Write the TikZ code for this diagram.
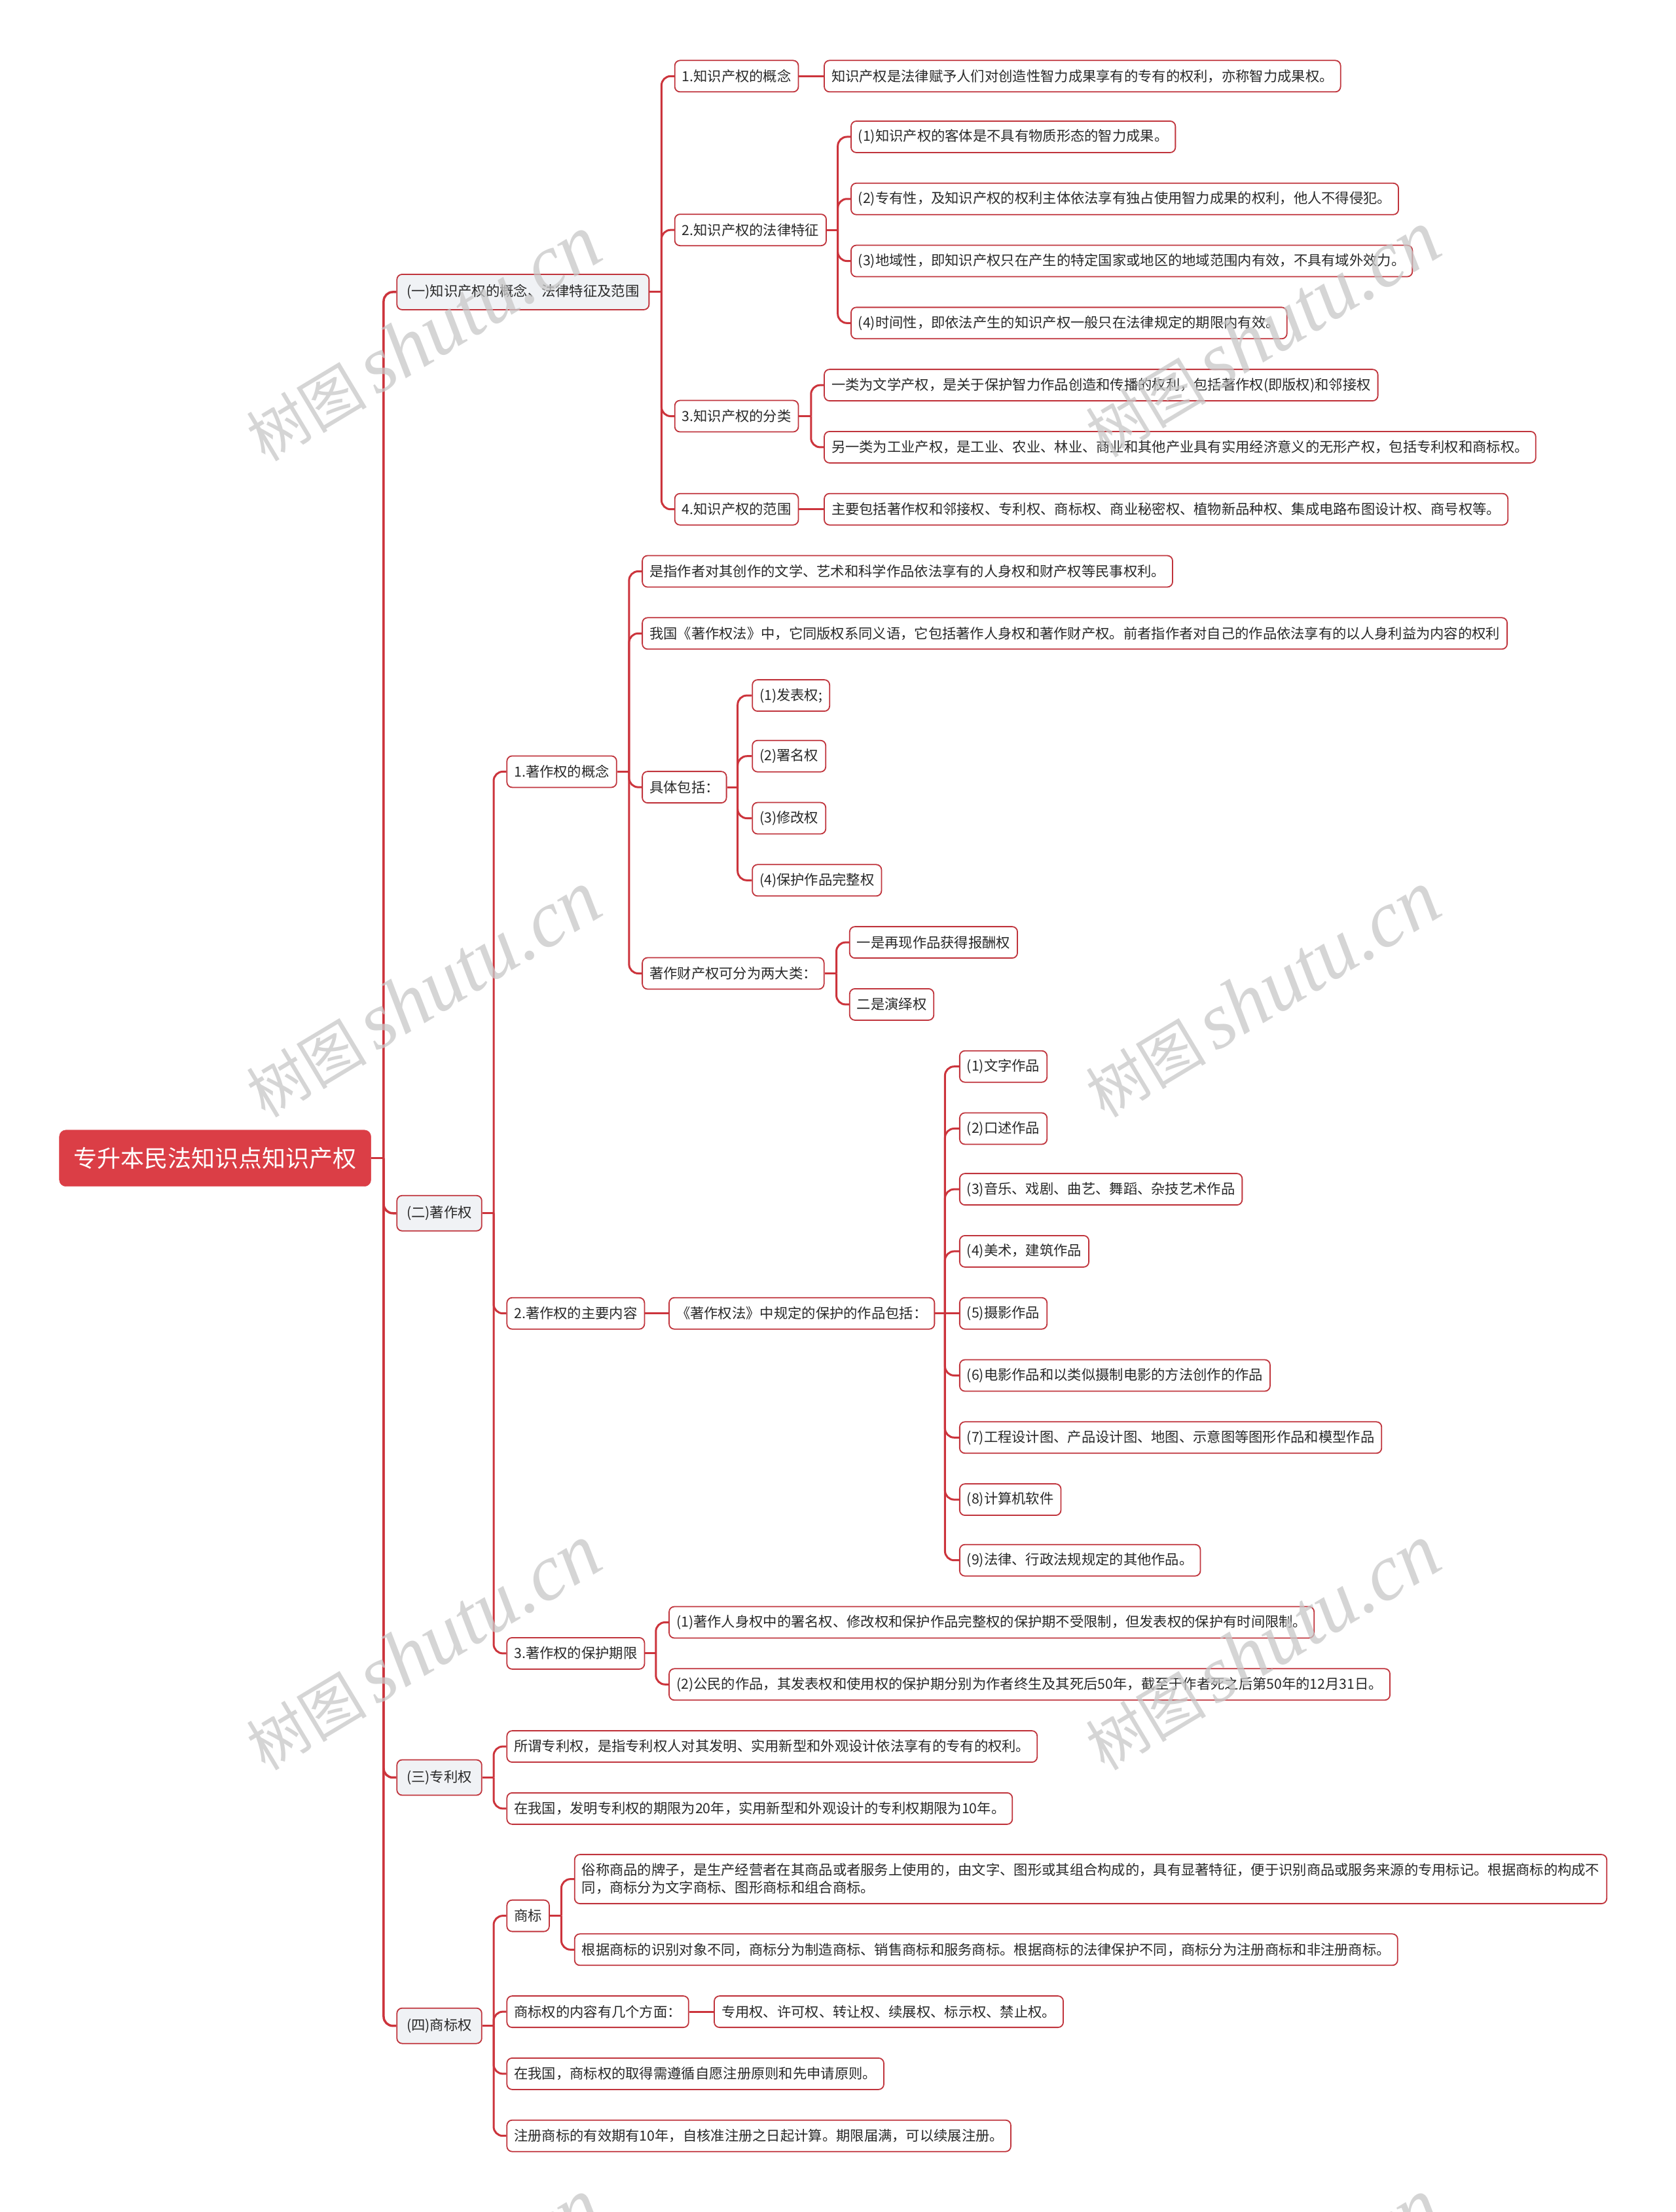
\documentclass[tikz,border=0pt]{standalone}
\usepackage{fontspec}
\setmainfont{Noto Sans CJK SC}
\newfontfamily\wmlat{Liberation Serif}
\usetikzlibrary{calc}
\definecolor{rootc}{RGB}{219,62,70}
\definecolor{linec}{RGB}{204,52,60}
\definecolor{nodeborder}{RGB}{192,52,60}
\definecolor{lonefill}{RGB}{240,242,245}
\definecolor{textc}{RGB}{40,40,40}
\definecolor{wmc}{RGB}{200,200,200}
\begin{document}
\begin{tikzpicture}[x=2.1549pt,y=-2.1549pt,
  base/.style={draw=nodeborder, line width=1.8pt, rounded corners=8pt, fill=white, text=textc,
    font=\fontsize{21.3}{27}\selectfont, inner xsep=11pt, inner ysep=0pt, minimum height=48pt, anchor=west},
  lvlone/.style={base, fill=lonefill, inner xsep=15pt, minimum height=54pt},
  rootbox/.style={fill=rootc, draw=rootc, text=white, rounded corners=10pt,
    font=\fontsize{36}{40}\selectfont, minimum width=476pt, minimum height=86pt, anchor=west, inner sep=0pt},
  conn/.style={draw=linec, line width=3pt},
  elbow/.style={conn, rounded corners=14pt},
  wm/.style={text=wmc, opacity=0.75, rotate=31, inner sep=0pt}
]
\fill[white] (0,0) rectangle (1188,1568);
\useasboundingbox (0,0) rectangle (1188,1568);

% ---------- root and level one ----------
\node[rootbox] (root) at (42,821) {专升本民法知识点知识产权};
\node[lvlone] (g1) at (281,207) {(一)知识产权的概念、法律特征及范围};
\node[lvlone] (g2) at (281,860) {(二)著作权};
\node[lvlone] (g3) at (281,1260) {(三)专利权};
\node[lvlone] (g4) at (281,1436) {(四)商标权};
\coordinate (t0) at (272,821);
\draw[conn, line width=3.5pt] (root.east) -- (t0);
\foreach \c in {g1,g2,g3,g4} \draw[elbow, line width=3.5pt] (t0) |- (\c.west);

% ---------- group 1 ----------
\node[base] (a1) at (478,54) {1.知识产权的概念};
\node[base] (a2) at (478,163) {2.知识产权的法律特征};
\node[base] (a3) at (478,295) {3.知识产权的分类};
\node[base] (a4) at (478,361) {4.知识产权的范围};
\coordinate (t1) at (469,207);
\draw[conn] (g1.east) -- (t1);
\foreach \c in {a1,a2,a3,a4} \draw[elbow] (t1) |- (\c.west);

\node[base] (b11) at (584,54) {知识产权是法律赋予人们对创造性智力成果享有的专有的权利，亦称智力成果权。};
\draw[conn] (a1.east) -- (b11.west);

\node[base] (b21) at (603,97) {(1)知识产权的客体是不具有物质形态的智力成果。};
\node[base] (b22) at (603,141) {(2)专有性，及知识产权的权利主体依法享有独占使用智力成果的权利，他人不得侵犯。};
\node[base] (b23) at (603,185) {(3)地域性，即知识产权只在产生的特定国家或地区的地域范围内有效，不具有域外效力。};
\node[base] (b24) at (603,229) {(4)时间性，即依法产生的知识产权一般只在法律规定的期限内有效。};
\coordinate (t12) at (594,163);
\draw[conn] (a2.east) -- (t12);
\foreach \c in {b21,b22,b23,b24} \draw[elbow] (t12) |- (\c.west);

\node[base] (b31) at (584,273) {一类为文学产权，是关于保护智力作品创造和传播的权利，包括著作权(即版权)和邻接权};
\node[base] (b32) at (584,317) {另一类为工业产权，是工业、农业、林业、商业和其他产业具有实用经济意义的无形产权，包括专利权和商标权。};
\coordinate (t13) at (575,295);
\draw[conn] (a3.east) -- (t13);
\foreach \c in {b31,b32} \draw[elbow] (t13) |- (\c.west);

\node[base] (b41) at (584,361) {主要包括著作权和邻接权、专利权、商标权、商业秘密权、植物新品种权、集成电路布图设计权、商号权等。};
\draw[conn] (a4.east) -- (b41.west);

% ---------- group 2 ----------
\node[base] (c1) at (359,547) {1.著作权的概念};
\node[base] (c2) at (359,931) {2.著作权的主要内容};
\node[base] (c3) at (359,1172) {3.著作权的保护期限};
\coordinate (t2) at (350,860);
\draw[conn] (g2.east) -- (t2);
\foreach \c in {c1,c2,c3} \draw[elbow] (t2) |- (\c.west);

\node[base] (d1) at (455,405) {是指作者对其创作的文学、艺术和科学作品依法享有的人身权和财产权等民事权利。};
\node[base] (d2) at (455,449) {我国《著作权法》中，它同版权系同义语，它包括著作人身权和著作财产权。前者指作者对自己的作品依法享有的以人身利益为内容的权利};
\node[base] (d3) at (455,558) {具体包括：};
\node[base] (d4) at (455,690) {著作财产权可分为两大类：};
\coordinate (t21) at (446,547);
\draw[conn] (c1.east) -- (t21);
\foreach \c in {d1,d2,d3,d4} \draw[elbow] (t21) |- (\c.west);

\node[base] (d31) at (533,493) {(1)发表权;};
\node[base] (d32) at (533,536) {(2)署名权};
\node[base] (d33) at (533,580) {(3)修改权};
\node[base] (d34) at (533,624) {(4)保护作品完整权};
\coordinate (t213) at (523,558);
\draw[conn] (d3.east) -- (t213);
\foreach \c in {d31,d32,d33,d34} \draw[elbow] (t213) |- (\c.west);

\node[base] (d41) at (602,668) {一是再现作品获得报酬权};
\node[base] (d42) at (602,712) {二是演绎权};
\coordinate (t214) at (593,690);
\draw[conn] (d4.east) -- (t214);
\foreach \c in {d41,d42} \draw[elbow] (t214) |- (\c.west);

\node[base] (e1) at (474,931) {《著作权法》中规定的保护的作品包括：};
\draw[conn] (c2.east) -- (e1.west);
\node[base] (e11) at (680,756) {(1)文字作品};
\node[base] (e12) at (680,800) {(2)口述作品};
\node[base] (e13) at (680,843) {(3)音乐、戏剧、曲艺、舞蹈、杂技艺术作品};
\node[base] (e14) at (680,887) {(4)美术，建筑作品};
\node[base] (e15) at (680,931) {(5)摄影作品};
\node[base] (e16) at (680,975) {(6)电影作品和以类似摄制电影的方法创作的作品};
\node[base] (e17) at (680,1019) {(7)工程设计图、产品设计图、地图、示意图等图形作品和模型作品};
\node[base] (e18) at (680,1063) {(8)计算机软件};
\node[base] (e19) at (680,1106) {(9)法律、行政法规规定的其他作品。};
\coordinate (t22) at (670,931);
\draw[conn] (e1.east) -- (t22);
\foreach \c in {e11,e12,e13,e14,e16,e17,e18,e19} \draw[elbow] (t22) |- (\c.west);
\draw[conn] (t22) -- (e15.west);

\node[base] (f1) at (474,1150) {(1)著作人身权中的署名权、修改权和保护作品完整权的保护期不受限制，但发表权的保护有时间限制。};
\node[base] (f2) at (474,1194) {(2)公民的作品，其发表权和使用权的保护期分别为作者终生及其死后50年，截至于作者死之后第50年的12月31日。};
\coordinate (t23) at (465,1172);
\draw[conn] (c3.east) -- (t23);
\foreach \c in {f1,f2} \draw[elbow] (t23) |- (\c.west);

% ---------- group 3 ----------
\node[base] (p1) at (359,1238) {所谓专利权，是指专利权人对其发明、实用新型和外观设计依法享有的专有的权利。};
\node[base] (p2) at (359,1282) {在我国，发明专利权的期限为20年，实用新型和外观设计的专利权期限为10年。};
\coordinate (t3) at (350,1260);
\draw[conn] (g3.east) -- (t3);
\foreach \c in {p1,p2} \draw[elbow] (t3) |- (\c.west);

% ---------- group 4 ----------
\node[base] (h1) at (359,1358) {商标};
\node[base] (h2) at (359,1426) {商标权的内容有几个方面：};
\node[base] (h3) at (359,1470) {在我国，商标权的取得需遵循自愿注册原则和先申请原则。};
\node[base] (h4) at (359,1514) {注册商标的有效期有10年，自核准注册之日起计算。期限届满，可以续展注册。};
\coordinate (t4) at (350,1436);
\draw[conn] (g4.east) -- (t4);
\foreach \c in {h1,h2,h3,h4} \draw[elbow] (t4) |- (\c.west);

\node[base, align=left, inner ysep=12pt, minimum height=75pt] (h11) at (407,1332) {俗称商品的牌子，是生产经营者在其商品或者服务上使用的，由文字、图形或其组合构成的，具有显著特征，便于识别商品或服务来源的专用标记。根据商标的构成不\\同，商标分为文字商标、图形商标和组合商标。};
\node[base] (h12) at (407,1382) {根据商标的识别对象不同，商标分为制造商标、销售商标和服务商标。根据商标的法律保护不同，商标分为注册商标和非注册商标。};
\coordinate (t41) at (398,1358);
\draw[conn] (h1.east) -- (t41);
\foreach \c in {h11,h12} \draw[elbow] (t41) |- (\c.west);

\node[base] (h21) at (506,1426) {专用权、许可权、转让权、续展权、标示权、禁止权。};
\draw[conn] (h2.east) -- (h21.west);

% ---------- watermarks ----------
\foreach \wx/\wy [count=\i] in {300/240,895/237,300/705,895/705,300/1168,895/1168,300/1632,895/1632}
  \node[wm] (wm\i) at (\wx,\wy) {\fontsize{92}{100}\selectfont 树图\hspace{14pt}{\wmlat\itshape\fontsize{122}{130}\selectfont shutu.cn}};
\end{tikzpicture}
\end{document}
